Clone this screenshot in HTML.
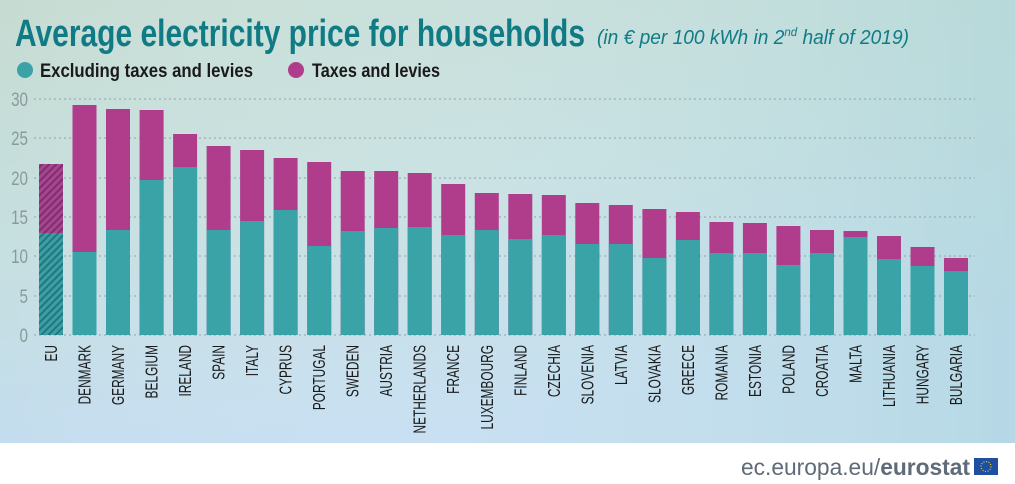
<!DOCTYPE html>
<html><head><meta charset="utf-8"><style>
html,body{margin:0;padding:0;background:#fff;}
svg{display:block;}
</style></head><body>
<svg width="1015" height="484" viewBox="0 0 1015 484" xmlns="http://www.w3.org/2000/svg">
<defs>
<linearGradient id="bg" x1="0" y1="0" x2="0.35" y2="1">
<stop offset="0" stop-color="#c6dcd2"/><stop offset="0.5" stop-color="#c6dfe0"/><stop offset="1" stop-color="#c3dcf2"/>
</linearGradient>
<linearGradient id="bg2" x1="0" y1="0" x2="1" y2="0">
<stop offset="0" stop-color="#ffffff" stop-opacity="0"/><stop offset="1" stop-color="#a8d4d8" stop-opacity="0.5"/>
</linearGradient>
<pattern id="hm" width="5" height="5" patternUnits="userSpaceOnUse" patternTransform="rotate(45)">
<rect width="5" height="5" fill="#a7458f"/><rect width="2" height="5" fill="#7d2f6f"/>
</pattern>
<pattern id="ht" width="5" height="5" patternUnits="userSpaceOnUse" patternTransform="rotate(45)">
<rect width="5" height="5" fill="#3aa0a6"/><rect width="2" height="5" fill="#24757d"/>
</pattern>
</defs>
<rect x="0" y="0" width="1015" height="443" fill="url(#bg)"/>
<rect x="0" y="0" width="1015" height="443" fill="url(#bg2)"/>
<g font-family="'Liberation Sans Narrow','Liberation Sans',sans-serif">
<text x="15" y="46" font-size="38" font-weight="bold" fill="#117b85" textLength="570" lengthAdjust="spacingAndGlyphs">Average electricity price for households</text>
<text x="597" y="44" font-size="20" font-style="italic" fill="#117b85" textLength="312" lengthAdjust="spacingAndGlyphs">(in € per 100 kWh in 2<tspan font-size="12" dy="-8">nd</tspan><tspan dy="8"> half of 2019)</tspan></text>
<circle cx="25" cy="70" r="8" fill="#3aa3a8"/>
<text x="40" y="77" font-size="19" font-weight="bold" fill="#1a1a1a" textLength="213" lengthAdjust="spacingAndGlyphs">Excluding taxes and levies</text>
<circle cx="296" cy="70" r="8" fill="#b03d8c"/>
<text x="312" y="77" font-size="19" font-weight="bold" fill="#1a1a1a" textLength="128" lengthAdjust="spacingAndGlyphs">Taxes and levies</text>
<g stroke="#8fa3a6" stroke-width="1" stroke-dasharray="2,3">
<line x1="34" y1="99" x2="975" y2="99"/><line x1="34" y1="138" x2="975" y2="138"/><line x1="34" y1="178" x2="975" y2="178"/><line x1="34" y1="217" x2="975" y2="217"/><line x1="34" y1="256" x2="975" y2="256"/><line x1="34" y1="296" x2="975" y2="296"/><line x1="34" y1="335" x2="975" y2="335"/>
</g>
<g font-size="19" fill="#8a9a9c" text-anchor="end">
<text transform="translate(28,106) scale(0.8,1)">30</text><text transform="translate(28,145) scale(0.8,1)">25</text><text transform="translate(28,185) scale(0.8,1)">20</text><text transform="translate(28,224) scale(0.8,1)">15</text><text transform="translate(28,263) scale(0.8,1)">10</text><text transform="translate(28,303) scale(0.8,1)">5</text><text transform="translate(28,342) scale(0.8,1)">0</text>
</g>
<rect x="39" y="164" width="24" height="171" fill="url(#hm)"/><rect x="39" y="233" width="24" height="102" fill="url(#ht)"/>
<g fill="#b03d8c">
<rect x="72.5" y="105" width="24" height="230"/><rect x="106" y="109" width="24" height="226"/><rect x="139.6" y="110" width="24" height="225"/><rect x="173.1" y="134" width="24" height="201"/><rect x="206.6" y="146" width="24" height="189"/><rect x="240.1" y="150" width="24" height="185"/><rect x="273.6" y="158" width="24" height="177"/><rect x="307.2" y="162" width="24" height="173"/><rect x="340.7" y="171" width="24" height="164"/><rect x="374.2" y="171" width="24" height="164"/><rect x="407.7" y="173" width="24" height="162"/><rect x="441.2" y="184" width="24" height="151"/><rect x="474.8" y="193" width="24" height="142"/><rect x="508.3" y="194" width="24" height="141"/><rect x="541.8" y="195" width="24" height="140"/><rect x="575.3" y="203" width="24" height="132"/><rect x="608.8" y="205" width="24" height="130"/><rect x="642.4" y="209" width="24" height="126"/><rect x="675.9" y="212" width="24" height="123"/><rect x="709.4" y="222" width="24" height="113"/><rect x="742.9" y="223" width="24" height="112"/><rect x="776.4" y="226" width="24" height="109"/><rect x="810" y="230" width="24" height="105"/><rect x="843.5" y="231" width="24" height="104"/><rect x="877" y="236" width="24" height="99"/><rect x="910.5" y="247" width="24" height="88"/><rect x="944" y="258" width="24" height="77"/>
</g>
<g fill="#3aa3a8">
<rect x="72.5" y="252" width="24" height="83"/><rect x="106" y="230" width="24" height="105"/><rect x="139.6" y="180" width="24" height="155"/><rect x="173.1" y="167" width="24" height="168"/><rect x="206.6" y="230" width="24" height="105"/><rect x="240.1" y="221" width="24" height="114"/><rect x="273.6" y="210" width="24" height="125"/><rect x="307.2" y="246" width="24" height="89"/><rect x="340.7" y="231" width="24" height="104"/><rect x="374.2" y="228" width="24" height="107"/><rect x="407.7" y="227" width="24" height="108"/><rect x="441.2" y="235" width="24" height="100"/><rect x="474.8" y="230" width="24" height="105"/><rect x="508.3" y="239" width="24" height="96"/><rect x="541.8" y="235" width="24" height="100"/><rect x="575.3" y="244" width="24" height="91"/><rect x="608.8" y="244" width="24" height="91"/><rect x="642.4" y="258" width="24" height="77"/><rect x="675.9" y="240" width="24" height="95"/><rect x="709.4" y="253" width="24" height="82"/><rect x="742.9" y="253" width="24" height="82"/><rect x="776.4" y="265" width="24" height="70"/><rect x="810" y="253" width="24" height="82"/><rect x="843.5" y="237" width="24" height="98"/><rect x="877" y="259" width="24" height="76"/><rect x="910.5" y="266" width="24" height="69"/><rect x="944" y="271" width="24" height="64"/>
</g>
<g font-size="18" fill="#1a1a1a" text-anchor="end">
<text transform="translate(57,345) rotate(-90) scale(0.66,1)">EU</text>
<text transform="translate(90.5,345) rotate(-90) scale(0.66,1)">DENMARK</text>
<text transform="translate(124,345) rotate(-90) scale(0.66,1)">GERMANY</text>
<text transform="translate(157.6,345) rotate(-90) scale(0.66,1)">BELGIUM</text>
<text transform="translate(191.1,345) rotate(-90) scale(0.66,1)">IRELAND</text>
<text transform="translate(224.6,345) rotate(-90) scale(0.66,1)">SPAIN</text>
<text transform="translate(258.1,345) rotate(-90) scale(0.66,1)">ITALY</text>
<text transform="translate(291.6,345) rotate(-90) scale(0.66,1)">CYPRUS</text>
<text transform="translate(325.2,345) rotate(-90) scale(0.66,1)">PORTUGAL</text>
<text transform="translate(358.7,345) rotate(-90) scale(0.66,1)">SWEDEN</text>
<text transform="translate(392.2,345) rotate(-90) scale(0.66,1)">AUSTRIA</text>
<text transform="translate(425.7,345) rotate(-90) scale(0.66,1)">NETHERLANDS</text>
<text transform="translate(459.2,345) rotate(-90) scale(0.66,1)">FRANCE</text>
<text transform="translate(492.8,345) rotate(-90) scale(0.66,1)">LUXEMBOURG</text>
<text transform="translate(526.3,345) rotate(-90) scale(0.66,1)">FINLAND</text>
<text transform="translate(559.8,345) rotate(-90) scale(0.66,1)">CZECHIA</text>
<text transform="translate(593.3,345) rotate(-90) scale(0.66,1)">SLOVENIA</text>
<text transform="translate(626.8,345) rotate(-90) scale(0.66,1)">LATVIA</text>
<text transform="translate(660.4,345) rotate(-90) scale(0.66,1)">SLOVAKIA</text>
<text transform="translate(693.9,345) rotate(-90) scale(0.66,1)">GREECE</text>
<text transform="translate(727.4,345) rotate(-90) scale(0.66,1)">ROMANIA</text>
<text transform="translate(760.9,345) rotate(-90) scale(0.66,1)">ESTONIA</text>
<text transform="translate(794.4,345) rotate(-90) scale(0.66,1)">POLAND</text>
<text transform="translate(828,345) rotate(-90) scale(0.66,1)">CROATIA</text>
<text transform="translate(861.5,345) rotate(-90) scale(0.66,1)">MALTA</text>
<text transform="translate(895,345) rotate(-90) scale(0.66,1)">LITHUANIA</text>
<text transform="translate(928.5,345) rotate(-90) scale(0.66,1)">HUNGARY</text>
<text transform="translate(962,345) rotate(-90) scale(0.66,1)">BULGARIA</text>
</g>
</g>
<text x="741" y="475" font-family="'Liberation Sans',sans-serif" font-size="23" fill="#5f6b78" textLength="229" lengthAdjust="spacingAndGlyphs">ec.europa.eu/<tspan font-weight="bold">eurostat</tspan></text>
<rect x="974" y="458" width="24" height="17" fill="#1f4fa0"/>
<circle cx="986" cy="466.5" r="5" fill="none" stroke="#f0d020" stroke-width="1.2" stroke-dasharray="1,1.6"/>
</svg>
</body></html>
